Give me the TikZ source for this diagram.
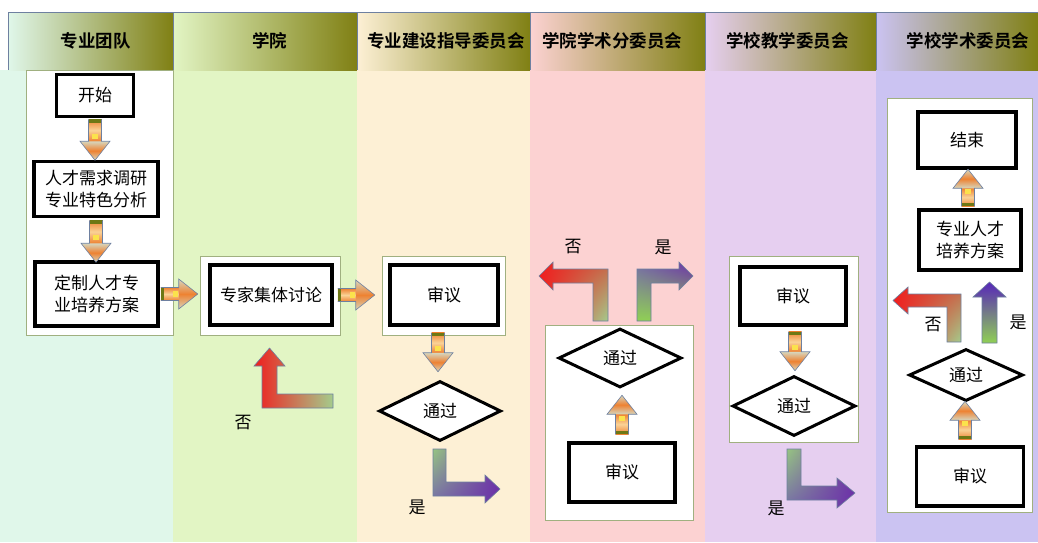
\documentclass[tikz,border=0pt]{standalone}
\usepackage{fontspec}
\setmainfont{Noto Sans CJK SC}[BoldFont={Noto Sans CJK SC Bold}]
\usepackage{tikz}
\usetikzlibrary{calc}
\usetikzlibrary{shapes}
\usetikzlibrary{shadings}

\definecolor{laneA}{RGB}{224,247,234}
\definecolor{laneB}{RGB}{226,245,196}
\definecolor{laneC}{RGB}{253,240,213}
\definecolor{laneD}{RGB}{252,210,210}
\definecolor{laneE}{RGB}{230,207,240}
\definecolor{laneF}{RGB}{203,195,242}
\definecolor{olivehd}{RGB}{128,128,20}
\definecolor{paleyel}{RGB}{226,226,140}
\definecolor{edgegray}{RGB}{110,128,160}
\definecolor{boxgreen}{RGB}{160,176,128}
\definecolor{arrorange}{RGB}{238,130,50}
\definecolor{arrlight}{RGB}{250,210,150}
\definecolor{arrpale}{RGB}{214,214,190}
\definecolor{arrolive}{RGB}{110,120,20}
\definecolor{nored}{RGB}{240,30,30}
\definecolor{nobrown}{RGB}{200,100,70}
\definecolor{nogreen}{RGB}{164,204,140}
\definecolor{yesgreen}{RGB}{144,208,84}
\definecolor{yesgray}{RGB}{150,196,130}
\definecolor{yesmid}{RGB}{118,108,168}
\definecolor{yespurple}{RGB}{108,48,168}

% lane: name, left, right, colour, text x, title
\newcommand{\lane}[6]{\fill[#4] (#2,70) rectangle (#3,542);
  \shade[left color=#4, middle color=paleyel, right color=olivehd] (#2,12) rectangle (#3,70);
  \draw[edgegray, line width=0.8pt] (#2,70) -- (#2,12) -- (#3,12);
  \node[head] (#1) at (#5,41) {#6};}
% block arrow: tail, direction, length
\newcommand{\blkarrow}[3]{\begin{scope}[shift={#1}, rotate=#2]
  \shade[top color=arrorange, bottom color=arrorange, middle color=arrlight] (0,-6.5) rectangle ({#3-19},6.5);
  \shade[top color=arrpale, bottom color=arrpale, middle color=arrorange] ({#3-19},-15) -- (#3,0) -- ({#3-19},15) -- cycle;
  \fill[arrolive] (0,-6.5) rectangle (3.5,6.5);
  \fill[yellow!50!arrlight] ({#3/2-6},-3) rectangle ({#3/2-1},3);
  \draw[edgegray, line width=0.6pt] (0,-6.5) -- ({#3-19},-6.5) -- ({#3-19},-15) -- (#3,0) -- ({#3-19},15) -- ({#3-19},6.5) -- (0,6.5);
  \end{scope}}

\begin{document}
\begin{tikzpicture}[x=1pt, y=-1pt,
    stepbox/.style={draw=black, line width=3.5pt, fill=white, inner sep=0pt, align=center, font=\fontsize{17}{22}\selectfont},
    decision/.style={diamond, draw=black, line width=3pt, fill=white, inner sep=0pt, font=\fontsize{17}{20}\selectfont},
    group/.style={draw=boxgreen, line width=0.8pt, fill=white},
    head/.style={font=\bfseries\fontsize{17.5}{20}\selectfont},
    lbl/.style={font=\fontsize{17}{20}\selectfont},
    bent/.style={draw=edgegray, line width=0.6pt}]
    \useasboundingbox (0,0) rectangle (1038,542);
    % lanes
    \fill[laneA] (0,70) rectangle (8,542);
    \lane{hA}{8}{173}{laneA}{95.5}{专业团队}
    \lane{hB}{173}{357}{laneB}{269.5}{学院}
    \lane{hC}{357}{530}{laneC}{446}{专业建设指导委员会}
    \lane{hD}{530}{705}{laneD}{612}{学院学术分委员会}
    \lane{hE}{705}{876}{laneE}{787.5}{学校教学委员会}
    \lane{hF}{876}{1038}{laneF}{968}{学校学术委员会}
    % groups
    \draw[group] (26,70) rectangle (173,335);
    \draw[group] (200,256) rectangle (340,335);
    \draw[group] (382,256) rectangle (505,335);
    \draw[group] (545,325) rectangle (693,520);
    \draw[group] (729,256) rectangle (858,442);
    \draw[group] (887,98) rectangle (1032,512);
    % lane 1
    \node[stepbox, minimum width=77pt, minimum height=42pt] (start) at (95,95.5) {开始};
    \node[stepbox, minimum width=124pt, minimum height=55pt] (survey) at (96,189) {人才需求调研\\专业特色分析};
    \node[stepbox, minimum width=123pt, minimum height=64pt] (draft) at (96.5,294) {定制人才专\\业培养方案};
    % lane 2
    \node[stepbox, minimum width=122pt, minimum height=60pt] (panel) at (271,295) {专家集体讨论};
    % lane 3
    \node[stepbox, minimum width=108pt, minimum height=60pt] (revC) at (444,295) {审议};
    \node[decision, minimum width=122pt, minimum height=60pt] (passC) at (440,411) {通过};
    % lane 4
    \node[decision, minimum width=123pt, minimum height=59pt] (passD) at (620,358) {通过};
    \node[stepbox, minimum width=106pt, minimum height=59pt] (revD) at (622,472.5) {审议};
    % lane 5
    \node[stepbox, minimum width=106pt, minimum height=58pt] (revE) at (793,296) {审议};
    \node[decision, minimum width=123pt, minimum height=60pt] (passE) at (794,406) {通过};
    % lane 6
    \node[stepbox, minimum width=98pt, minimum height=56pt] (finish) at (967,140) {结束};
    \node[stepbox, minimum width=102pt, minimum height=60pt] (plan) at (970,240) {专业人才\\培养方案};
    \node[decision, minimum width=114pt, minimum height=52pt] (passF) at (966,375) {通过};
    \node[stepbox, minimum width=107pt, minimum height=59pt] (revF) at (970,476.5) {审议};
    % block arrows
    \blkarrow{($(start.south)+(0,1)$)}{-90}{41}
    \blkarrow{($(survey.south)+(0,2)$)}{-90}{42}
    \blkarrow{($(draft.east)+(1,0)$)}{0}{37}
    \blkarrow{($(panel.east)+(4,0)$)}{0}{37}
    \blkarrow{($(revC.south)+(-6,6)$)}{-90}{39}
    \blkarrow{($(revD.north)+(0,-7)$)}{90}{39}
    \blkarrow{($(revE.south)+(2,5)$)}{-90}{39}
    \blkarrow{($(plan.north)+(-2,-2)$)}{90}{37}
    \blkarrow{($(revF.north)+(-5,-6)$)}{90}{38}
    % yes / no arrows
    \shade[bent, left color=nored, middle color=nobrown, right color=nogreen] (333,394) -- (277,394) -- (277,366) -- (285,366) -- (269.5,348) -- (254,366) -- (262,366) -- (262,408) -- (333,408) -- cycle;
    \shade[bent, upper left=yesgray, lower left=yesmid, upper right=yespurple, lower right=yespurple] (433,449) -- (446,449) -- (446,482) -- (485,482) -- (485,475) -- (500,489) -- (485,503) -- (485,496) -- (433,496) -- cycle;
    \shade[bent, upper left=nored, lower left=nored, upper right=nobrown, lower right=nogreen] (608,321) -- (608,269) -- (553,269) -- (553,262) -- (539,276) -- (553,290) -- (553,283) -- (593,283) -- (593,321) -- cycle;
    \shade[bent, upper left=yesmid, upper right=yespurple, lower left=yesgreen, lower right=yesgreen] (637,321) -- (637,269) -- (679,269) -- (679,262) -- (693,276) -- (679,290) -- (679,283) -- (651,283) -- (651,321) -- cycle;
    \shade[bent, upper left=yesgray, lower left=yesmid, upper right=yespurple, lower right=yespurple] (787,449) -- (801,449) -- (801,486) -- (837,486) -- (837,478) -- (855,493) -- (837,508) -- (837,500) -- (787,500) -- cycle;
    \shade[bent, upper left=nored, lower left=nored, upper right=nobrown, lower right=nogreen] (961,342) -- (961,294) -- (908,294) -- (908,287) -- (893,300.5) -- (908,314) -- (908,307) -- (947,307) -- (947,342) -- cycle;
    \shade[bent, top color=yespurple!80!blue, bottom color=yesgreen] (982,343) -- (982,297) -- (973,297) -- (989.5,282) -- (1006,297) -- (997,297) -- (997,343) -- cycle;
    % labels
    \node[lbl] (noB) at (243,423) {否};
    \node[lbl] (yesC) at (417,507) {是};
    \node[lbl] (noD) at (573,247) {否};
    \node[lbl] (yesD) at (663,247) {是};
    \node[lbl] (yesE) at (776,508) {是};
    \node[lbl] (noF) at (933,325) {否};
    \node[lbl] (yesF) at (1018,322) {是};
\end{tikzpicture}
\end{document}
